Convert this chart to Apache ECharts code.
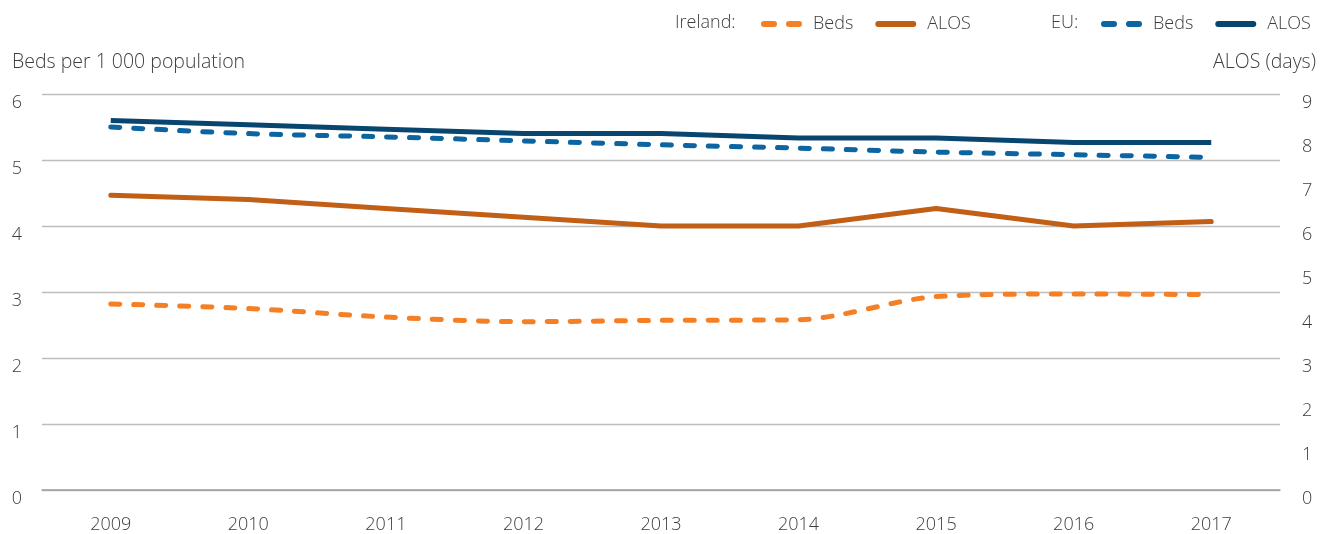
<!DOCTYPE html>
<html>
<head>
<meta charset="utf-8">
<script src="https://cdn.jsdelivr.net/npm/echarts@6/dist/echarts.min.js"></script>
<style>
  html, body { margin: 0; padding: 0; background: #fff; }
  #chart { width: 1320px; height: 534px; }
</style>
</head>
<body>
<div id="chart"></div>
<script>
// chart data
const years = ['2009', '2010', '2011', '2012', '2013', '2014', '2015', '2016', '2017']
const irelandBeds = [2.82, 2.75, 2.62, 2.55, 2.57, 2.58, 2.93, 2.97, 2.96]
const irelandAlos = [6.7, 6.6, 6.4, 6.2, 6.0, 6.0, 6.4, 6.0, 6.1]
const euBeds = [5.5, 5.4, 5.35, 5.29, 5.23, 5.18, 5.12, 5.08, 5.04]
const euAlos = [8.4, 8.3, 8.2, 8.1, 8.1, 8.0, 8.0, 7.9, 7.9]

const font = '"Open Sans", "Noto Sans", sans-serif'
const textColor = '#3d3d3d'
const fontWeight = 300

// legend icons: two rounded dashes, or one rounded bar
const dashIcon = 'path://M3,0 H13 A3,3 0 0 1 13,6 H3 A3,3 0 0 1 3,0 Z M28,0 H38 A3,3 0 0 1 38,6 H28 A3,3 0 0 1 28,0 Z'
const barIcon = 'path://M3,0 H38 A3,3 0 0 1 38,6 H3 A3,3 0 0 1 3,0 Z'

const chart = echarts.init(document.getElementById('chart'))

function dashed(color) {
  return { color: color, width: 5, type: [9, 14], cap: 'round' }
}

function legendBlock(left, names) {
  return {
    left: left,
    top: 10,
    itemWidth: 41,
    itemHeight: 6,
    itemGap: 22,
    itemStyle: { borderWidth: 0 },
    textStyle: { fontSize: 18, color: textColor, fontFamily: font, fontWeight: fontWeight, padding: [0, 0, 0, 6] },
    data: [
      { name: names[0], icon: dashIcon },
      { name: names[1], icon: barIcon },
    ],
    formatter: (n) => n.split(' ')[1],
  }
}

const labelStyle = { fontSize: 18, color: textColor, fontWeight: fontWeight }

chart.setOption({
  animation: false,
  textStyle: { fontFamily: font },
  grid: { left: 42, right: 40, top: 94, bottom: 41 },
  legend: [
    legendBlock(756, ['Ireland Beds', 'Ireland ALOS']),
    legendBlock(1096, ['EU Beds', 'EU ALOS']),
  ],
  graphic: [
    { type: 'text', left: 675, top: 14, style: { text: 'Ireland:', fontSize: 18, fill: textColor, fontFamily: font, fontWeight: fontWeight } },
    { type: 'text', left: 1051, top: 14, style: { text: 'EU:', fontSize: 18, fill: textColor, fontFamily: font, fontWeight: fontWeight } },
    { type: 'text', left: 12, top: 52, style: { text: 'Beds per 1 000 population', fontSize: 19.5, fill: textColor, fontFamily: font, fontWeight: fontWeight } },
    { type: 'text', right: 4, top: 52, style: { text: 'ALOS (days)', fontSize: 19.5, fill: textColor, fontFamily: font, fontWeight: fontWeight } },
  ],
  xAxis: {
    type: 'category',
    data: years,
    boundaryGap: true,
    axisLine: { lineStyle: { color: '#9e9e9e', width: 1.5 } },
    axisTick: { show: false },
    axisLabel: Object.assign({ margin: 26 }, labelStyle),
  },
  yAxis: [
    {
      type: 'value',
      min: 0,
      max: 6,
      interval: 1,
      axisLine: { show: false },
      axisTick: { show: false },
      axisLabel: Object.assign({ margin: 20, verticalAlign: 'top' }, labelStyle),
      splitLine: { lineStyle: { color: '#bdbdbd', width: 1.3 } },
    },
    {
      type: 'value',
      min: 0,
      max: 9,
      interval: 1,
      position: 'right',
      axisLine: { show: false },
      axisTick: { show: false },
      axisLabel: Object.assign({ margin: 22, verticalAlign: 'top' }, labelStyle),
      splitLine: { show: false },
    },
  ],
  series: [
    {
      name: 'Ireland Beds',
      type: 'line',
      yAxisIndex: 0,
      data: irelandBeds,
      smooth: 0.3,
      symbol: 'none',
      color: '#F47F24',
      lineStyle: dashed('#F47F24'),
    },
    {
      name: 'Ireland ALOS',
      type: 'line',
      yAxisIndex: 1,
      data: irelandAlos,
      symbol: 'none',
      color: '#C25F16',
      lineStyle: { color: '#C25F16', width: 5, cap: 'round', join: 'round' },
    },
    {
      name: 'EU Beds',
      type: 'line',
      yAxisIndex: 0,
      data: euBeds,
      smooth: 0.3,
      symbol: 'none',
      color: '#0C64A0',
      lineStyle: dashed('#0C64A0'),
    },
    {
      name: 'EU ALOS',
      type: 'line',
      yAxisIndex: 1,
      data: euAlos,
      symbol: 'none',
      color: '#08466F',
      lineStyle: { color: '#08466F', width: 5, cap: 'butt' },
    },
  ],
})
</script>
</body>
</html>
